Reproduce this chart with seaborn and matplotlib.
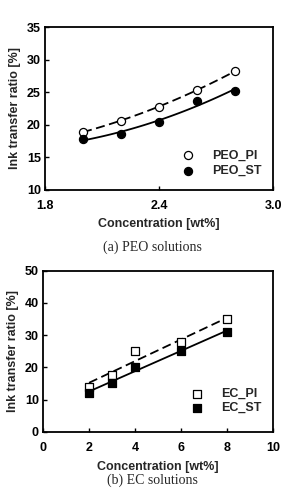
import matplotlib
matplotlib.use("Agg")
import matplotlib.pyplot as plt
import seaborn as sns
import numpy as np
import pandas as pd

sns.set_style("ticks")
plt.rcParams['font.family'] = ['Liberation Sans', 'DejaVu Sans']
plt.rcParams['font.weight'] = 'bold'

# PEO data
peo_conc = [2.0, 2.2, 2.4, 2.6, 2.8]
peo_pi = [18.9, 20.6, 22.8, 25.4, 28.2]
peo_st = [17.8, 18.6, 20.4, 23.6, 25.2]
# EC data
ec_conc = [2, 3, 4, 6, 8]
ec_pi = [14.0, 17.7, 25.2, 28.0, 34.9]
ec_st = [12.2, 15.1, 20.0, 25.2, 31.1]

fig = plt.figure(figsize=(2.83, 4.93), dpi=100)
ax1 = fig.add_axes([0.159, 0.615, 0.806, 0.330])
ax2 = fig.add_axes([0.152, 0.124, 0.813, 0.327])

FS = 9
lw_fit = 1.3

# Top panel
sns.regplot(x=peo_conc, y=peo_pi, order=2, ci=None, scatter=False, ax=ax1,
            line_kws=dict(color='black', lw=lw_fit, ls=(0, (5, 2.5))))
sns.regplot(x=peo_conc, y=peo_st, order=2, ci=None, scatter=False, ax=ax1,
            line_kws=dict(color='black', lw=lw_fit))
sns.scatterplot(x=peo_conc, y=peo_pi, ax=ax1, marker='o', s=34, facecolor='white',
                edgecolor='black', linewidth=0.9, label='PEO_PI', zorder=3)
sns.scatterplot(x=peo_conc, y=peo_st, ax=ax1, marker='o', s=34, facecolor='black',
                edgecolor='black', linewidth=0.9, label='PEO_ST', zorder=3)
ax1.set_xlim(1.8, 3.0)
ax1.set_ylim(10, 35)
ax1.set_xticks([1.8, 2.4, 3.0])
ax1.set_xticklabels(['1.8', '2.4', '3.0'])
ax1.set_yticks([10, 15, 20, 25, 30, 35])

# Bottom panel
sns.regplot(x=ec_conc, y=ec_pi, order=1, ci=None, scatter=False, ax=ax2,
            line_kws=dict(color='black', lw=lw_fit, ls=(0, (5, 2.5))))
sns.regplot(x=ec_conc, y=ec_st, order=1, ci=None, scatter=False, ax=ax2,
            line_kws=dict(color='black', lw=lw_fit))
sns.scatterplot(x=ec_conc, y=ec_pi, ax=ax2, marker='s', s=34, facecolor='white',
                edgecolor='black', linewidth=0.9, label='EC_PI', zorder=3)
sns.scatterplot(x=ec_conc, y=ec_st, ax=ax2, marker='s', s=34, facecolor='black',
                edgecolor='black', linewidth=0.9, label='EC_ST', zorder=3)
ax2.set_xlim(0, 10)
ax2.set_ylim(0, 50)
ax2.set_xticks([0, 2, 4, 6, 8, 10])
ax2.set_yticks([0, 10, 20, 30, 40, 50])

for ax, ly, ls in ((ax1, 0.08, 0.25), (ax2, 0.11, 0.15)):
    for sp in ax.spines.values():
        sp.set_linewidth(1.3)
        sp.set_color('black')
        sp.set_visible(True)
    ax.tick_params(direction='in', length=3, width=1.0, labelsize=FS, pad=3,
                   colors='black')
    ax.tick_params(axis='x', pad=7)
    for lab in ax.get_xticklabels() + ax.get_yticklabels():
        lab.set_fontweight('bold')
    ax.set_xlabel('Concentration [wt%]', fontsize=FS, fontweight='bold', labelpad=5)
    ax.set_ylabel('Ink transfer ratio [%]', fontsize=FS, fontweight='bold', labelpad=4)
    leg = ax.legend(loc='lower right', bbox_to_anchor=(0.95, ly), frameon=False,
                    fontsize=FS, handletextpad=0.9, labelspacing=ls,
                    borderaxespad=0.0, borderpad=0.0)
    for t in leg.get_texts():
        t.set_fontweight('bold')

fig.text(0.54, 0.499, '(a) PEO solutions', ha='center', va='center', fontsize=10,
         family='Liberation Serif', fontweight='normal')
fig.text(0.54, 0.026, '(b) EC solutions', ha='center', va='center', fontsize=10,
         family='Liberation Serif', fontweight='normal')

fig.savefig('out.png', dpi=100)
